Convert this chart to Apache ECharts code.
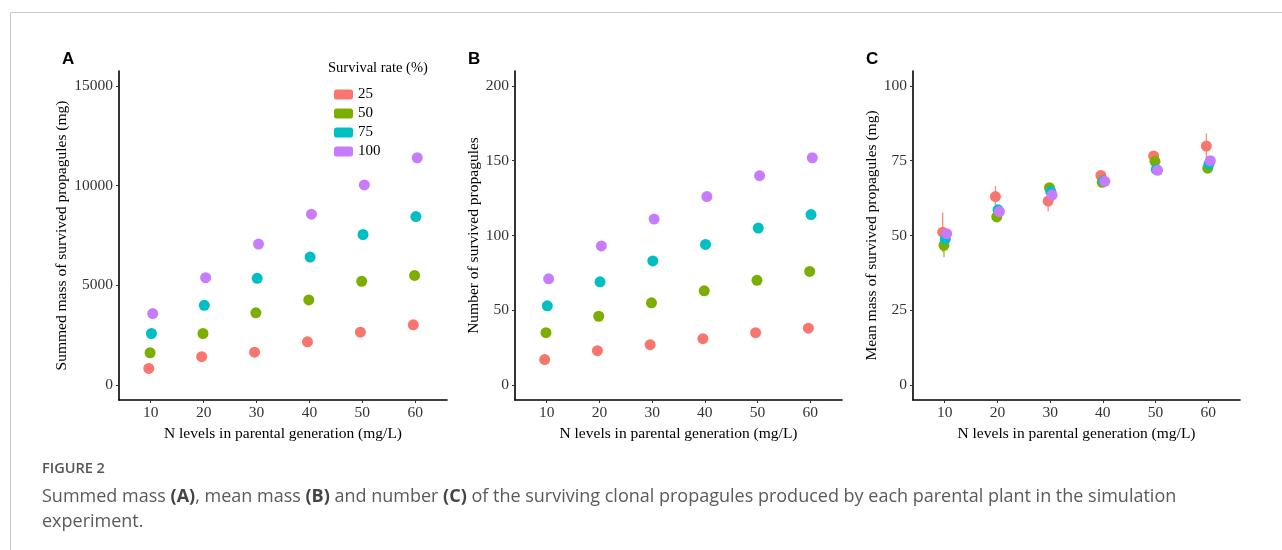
<!DOCTYPE html>
<html>
<head>
<meta charset="utf-8">
<script src="https://cdn.jsdelivr.net/npm/echarts@6/dist/echarts.min.js"></script>
<style>
html,body{margin:0;padding:0;background:#fff;}
#chart{width:1282px;height:550px;}
</style>
</head>
<body>
<div id="chart"></div>
<script>
// ---- data ----
const levels = [10, 20, 30, 40, 50, 60];
const rates = ['25', '50', '75', '100'];
const xTicks = [10, 20, 30, 40, 50, 60];
const yTicksA = [0, 5000, 10000, 15000];
const yTicksB = [0, 50, 100, 150, 200];
const yTicksC = [0, 25, 50, 75, 100];

// A: summed mass of survived propagules (mg)
const summedMass25 = [835, 1420, 1650, 2170, 2650, 3020];
const summedMass50 = [1620, 2585, 3620, 4270, 5200, 5500];
const summedMass75 = [2585, 4000, 5350, 6420, 7550, 8450];
const summedMass100 = [3585, 5385, 7070, 8570, 10035, 11400];

// B: number of survived propagules
const count25 = [17, 23, 27, 31, 35, 38];
const count50 = [35, 46, 55, 63, 70, 76];
const count75 = [53, 69, 83, 94, 105, 114];
const count100 = [71, 93, 111, 126, 140, 152];

// C: mean mass of survived propagules (mg) and error
const meanMass25 = [51.1, 63.0, 61.5, 70.1, 76.6, 79.9];
const meanMass50 = [46.7, 56.2, 66.0, 67.8, 74.8, 72.5];
const meanMass75 = [48.8, 58.6, 64.7, 68.3, 72.1, 73.9];
const meanMass100 = [50.6, 58.0, 63.5, 68.1, 71.8, 75.0];
const meanErr25 = [6.6, 3.6, 3.5, 1.5, 1.5, 4.2];
const meanErr50 = [4.0, 1.2, 1.2, 1.0, 1.2, 1.0];
const meanErr75 = [1.5, 1.0, 1.0, 1.0, 1.0, 1.0];
const meanErr100 = [1.5, 1.0, 1.0, 1.0, 1.0, 1.0];

// ---- styling ----
const colors = ['#F8766D', '#7CAE00', '#00BFC4', '#C77CFF'];
const dodge = [-0.375, -0.125, 0.125, 0.375];
const serif = '"Liberation Serif", "DejaVu Serif", serif';
const fs = 15.5;

const panelA = [summedMass25, summedMass50, summedMass75, summedMass100];
const panelB = [count25, count50, count75, count100];
const panelC = [meanMass25, meanMass50, meanMass75, meanMass100];
const panelCErr = [meanErr25, meanErr50, meanErr75, meanErr100];

const chart = echarts.init(document.getElementById('chart'), null, {renderer: 'canvas'});

const gridTop = 71, gridW = 328, gridH = 329;
const grids = [
  {left: 119, top: gridTop, width: gridW, height: gridH},
  {left: 515, top: gridTop, width: gridW - 1, height: gridH},
  {left: 913, top: gridTop, width: gridW - 1, height: gridH}
];

function xAxis(idx) {
  return {
    type: 'value', gridIndex: idx, min: 4, max: 66,
    name: 'N levels in parental generation (mg/L)',
    nameLocation: 'middle', nameGap: 22,
    nameTextStyle: {fontFamily: serif, fontSize: fs, color: '#000'},
    axisLine: {show: true, onZero: false, lineStyle: {color: '#000', width: 1.6}},
    axisTick: {show: true, length: 3, customValues: xTicks, lineStyle: {color: '#333', width: 1}},
    axisLabel: {customValues: xTicks, margin: 5, fontFamily: serif, fontSize: fs, color: '#333',
      formatter: v => String(v)},
    splitLine: {show: false}
  };
}
function yAxis(idx, min, max, ticks, name, gap) {
  return {
    type: 'value', gridIndex: idx, min: min, max: max,
    name: name, nameLocation: 'middle', nameGap: gap,
    nameTextStyle: {fontFamily: serif, fontSize: fs, color: '#000'},
    axisLine: {show: true, onZero: false, lineStyle: {color: '#000', width: 1.6}},
    axisTick: {show: true, length: 3, customValues: ticks, lineStyle: {color: '#333', width: 1}},
    axisLabel: {customValues: ticks, margin: 6, fontFamily: serif, fontSize: fs, color: '#333',
      formatter: v => String(v)},
    splitLine: {show: false}
  };
}

const series = [];
function addScatter(panelIdx, arrays) {
  arrays.forEach((vals, k) => {
    series.push({
      type: 'scatter', name: rates[k],
      xAxisIndex: panelIdx, yAxisIndex: panelIdx,
      symbol: 'circle', symbolSize: 11,
      itemStyle: {color: colors[k], opacity: 1},
      z: 3,
      data: levels.map((l, i) => [l + dodge[k], vals[i]])
    });
  });
}
// error bars for panel C
panelC.forEach((vals, k) => {
  const err = panelCErr[k];
  series.push({
    type: 'custom', name: 'err' + rates[k],
    xAxisIndex: 2, yAxisIndex: 2, z: 2,
    encode: {x: 0, y: [1, 2]},
    data: levels.map((l, i) => [l + dodge[k], vals[i] - err[i], vals[i] + err[i]]),
    renderItem: function (params, api) {
      const p1 = api.coord([api.value(0), api.value(1)]);
      const p2 = api.coord([api.value(0), api.value(2)]);
      return {
        type: 'line',
        shape: {x1: p1[0], y1: p1[1], x2: p2[0], y2: p2[1]},
        style: {stroke: colors[k], lineWidth: 1.3, opacity: 0.85}
      };
    }
  });
});
addScatter(0, panelA);
addScatter(1, panelB);
addScatter(2, panelC);

const capFont = '"Open Sans", "Noto Sans", sans-serif';
const option = {
  animation: false,
  backgroundColor: '#fff',
  grid: grids,
  xAxis: [xAxis(0), xAxis(1), xAxis(2)],
  yAxis: [
    yAxis(0, -750, 15750, yTicksA, 'Summed mass of survived propagules (mg)', 45),
    yAxis(1, -10, 210, yTicksB, 'Number of survived propagules', 29),
    yAxis(2, -5, 105, yTicksC, 'Mean mass of survived propagules (mg)', 29)
  ],
  legend: {
    data: rates, orient: 'vertical', left: 329, top: 82,
    icon: 'roundRect', itemWidth: 19, itemHeight: 10, itemGap: 4,
    textStyle: {fontFamily: serif, fontSize: 15, color: '#000', lineHeight: 15}
  },
  graphic: [
    {type: 'rect', silent: true, shape: {x: 10.5, y: 12.5, width: 1400, height: 700},
     style: {fill: 'none', stroke: '#c8c8c8', lineWidth: 1}},
    {type: 'text', left: 328, top: 61,
     style: {text: 'Survival rate (%)', font: '14.5px ' + serif, fill: '#000'}},
    {type: 'text', left: 62, top: 51,
     style: {text: 'A', font: 'bold 17px "Liberation Sans", Arial, sans-serif', fill: '#000'}},
    {type: 'text', left: 468, top: 51,
     style: {text: 'B', font: 'bold 17px "Liberation Sans", Arial, sans-serif', fill: '#000'}},
    {type: 'text', left: 866, top: 51,
     style: {text: 'C', font: 'bold 17px "Liberation Sans", Arial, sans-serif', fill: '#000'}},
    {type: 'text', left: 42, top: 461,
     style: {text: 'FIGURE 2', font: '600 14.5px ' + capFont, fill: '#555'}},
    {type: 'text', left: 42, top: 484,
     style: {
       text: 'Summed mass {b|(A)}, mean mass {b|(B)} and number {b|(C)} of the surviving clonal propagules produced by each parental plant in the simulation\nexperiment.',
       font: '18px ' + capFont, fill: '#5a5a5a', lineHeight: 25,
       rich: {b: {fontWeight: 'bold', fontSize: 18, fontFamily: capFont, fill: '#444', lineHeight: 25}}
     }}
  ],
  series: series
};
chart.setOption(option);
</script>
</body>
</html>
